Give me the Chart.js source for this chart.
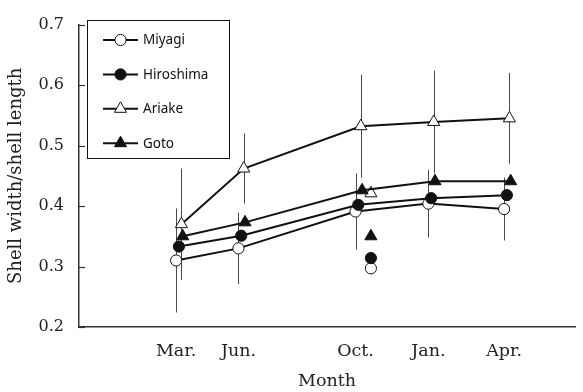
<!DOCTYPE html>
<html>
<head>
<meta charset="utf-8">
<script src="https://cdn.jsdelivr.net/npm/chart.js@4.4.1/dist/chart.umd.min.js"></script>
<style>
  html, body { margin: 0; padding: 0; background: #fff; }
  canvas { display: block; }
</style>
</head>
<body>
<canvas id="chart" width="583" height="392"></canvas>
<script>
// Sampling months (months after the March sampling) and their axis labels
const monthLabels    = ['Mar.', 'Jun.', 'Oct.', 'Jan.', 'Apr.'];
const samplingMonths = [0, 2.47, 7.11, 10, 13];

// Mean shell width / shell length ratio per population
const miyagi    = [0.310, 0.330, 0.391, 0.404, 0.395];
const hiroshima = [0.333, 0.351, 0.402, 0.413, 0.418];
const ariake    = [0.370, 0.462, 0.532, 0.539, 0.545];
const goto      = [0.350, 0.373, 0.426, 0.441, 0.441];

// Standard deviations
const miyagiSD = [0.086, 0.059, 0.063, 0.056, 0.052];
const ariakeSD = [0.092, 0.058, 0.085, 0.085, 0.075];

// Separate October sample (Miyagi, Hiroshima, Ariake, Goto)
const octSampleMonth  = 7.72;
const octSampleValues = [0.297, 0.314, 0.421, 0.350];

// Y axis ticks
const yTicks = [0.2, 0.3, 0.4, 0.5, 0.6, 0.7];

// Drawing style of each population
const series = [
  { name: 'Miyagi',    values: miyagi,    sd: miyagiSD, shape: 'circle',   fill: '#ffffff', dodge: 0,    order: 4 },
  { name: 'Hiroshima', values: hiroshima, sd: null,     shape: 'circle',   fill: '#111111', dodge: 0.11, order: 3 },
  { name: 'Ariake',    values: ariake,    sd: ariakeSD, shape: 'triangle', fill: '#ffffff', dodge: 0.21, order: 2 },
  { name: 'Goto',      values: goto,      sd: null,     shape: 'triangle', fill: '#111111', dodge: 0.26, order: 1 }
];
const markerRadius = { circle: 5.6, triangle: 7 };
const INK = '#111111';
const SERIF = '"DejaVu Serif", serif';

const datasets = [];
series.forEach((s, k) => {
  datasets.push({
    label: s.name,
    data: s.values.map((v, i) => ({ x: samplingMonths[i] + s.dodge, y: v })),
    borderColor: INK,
    borderWidth: 2,
    tension: 0,
    pointStyle: s.shape,
    pointRadius: markerRadius[s.shape],
    pointBackgroundColor: s.fill,
    pointBorderColor: INK,
    pointBorderWidth: 1,
    order: s.order
  });
  datasets.push({
    label: s.name + ' (Oct.)',
    data: [{ x: octSampleMonth, y: octSampleValues[k] }],
    showLine: false,
    pointStyle: s.shape,
    pointRadius: markerRadius[s.shape],
    pointBackgroundColor: s.fill,
    pointBorderColor: INK,
    pointBorderWidth: 1,
    order: s.order
  });
});

// Vertical SD bars behind the lines
const errorBars = {
  id: 'errorBars',
  beforeDatasetsDraw(chart) {
    const { ctx, scales: { x, y } } = chart;
    ctx.save();
    ctx.strokeStyle = '#4a4a4a';
    ctx.lineWidth = 1;
    series.forEach(s => {
      if (!s.sd) return;
      s.values.forEach((v, i) => {
        const px = Math.round(x.getPixelForValue(samplingMonths[i] + s.dodge)) + 0.5;
        ctx.beginPath();
        ctx.moveTo(px, y.getPixelForValue(v + s.sd[i]));
        ctx.lineTo(px, y.getPixelForValue(v - s.sd[i]));
        ctx.stroke();
      });
    });
    ctx.restore();
  }
};

// Inward tick marks on the y axis
const innerTicks = {
  id: 'innerTicks',
  afterDraw(chart) {
    const { ctx, scales: { y } } = chart;
    const left = chart.chartArea.left;
    ctx.save();
    ctx.strokeStyle = '#333';
    ctx.lineWidth = 1.2;
    yTicks.forEach(t => {
      const py = Math.round(y.getPixelForValue(t)) + 0.5;
      ctx.beginPath();
      ctx.moveTo(left, py);
      ctx.lineTo(left + 6, py);
      ctx.stroke();
    });
    ctx.restore();
  }
};

// Boxed legend in the upper left of the plot
const boxLegend = {
  id: 'boxLegend',
  afterDraw(chart) {
    const { ctx } = chart;
    const box = { x: 87.5, y: 20.5, w: 142, h: 138 };
    ctx.save();
    ctx.fillStyle = '#fff';
    ctx.fillRect(box.x, box.y, box.w, box.h);
    ctx.strokeStyle = INK;
    ctx.lineWidth = 1;
    ctx.strokeRect(box.x, box.y, box.w, box.h);
    series.forEach((s, i) => {
      const cy = 40 + i * 34.4;
      ctx.strokeStyle = INK;
      ctx.lineWidth = 2;
      ctx.beginPath();
      ctx.moveTo(103, cy);
      ctx.lineTo(138, cy);
      ctx.stroke();
      ctx.fillStyle = s.fill;
      ctx.strokeStyle = INK;
      ctx.lineWidth = 1;
      Chart.helpers.drawPoint(ctx, {
        pointStyle: s.shape,
        radius: markerRadius[s.shape],
        rotation: 0,
        borderWidth: 1
      }, 120.5, cy);
      ctx.fillStyle = '#111';
      ctx.font = '13.5px "Noto Sans", sans-serif';
      ctx.textBaseline = 'middle';
      ctx.textAlign = 'left';
      ctx.fillText(s.name, 143, cy + 0.5);
    });
    ctx.restore();
  }
};

new Chart(document.getElementById('chart'), {
  type: 'line',
  data: { datasets },
  plugins: [errorBars, innerTicks, boxLegend],
  options: {
    responsive: false,
    animation: false,
    layout: { padding: { top: 15, right: 0, bottom: 0, left: 0 } },
    plugins: { legend: { display: false }, tooltip: { enabled: false } },
    scales: {
      x: {
        type: 'linear',
        min: -3.85,
        max: 15.81,
        grid: { display: false, drawTicks: false },
        border: { display: true, color: '#333', width: 1.5 },
        afterBuildTicks: scale => {
          scale.ticks = samplingMonths.map(v => ({ value: v }));
        },
        afterFit: scale => { scale.height = 65; },
        ticks: {
          autoSkip: false,
          maxRotation: 0,
          padding: 14,
          color: '#222',
          font: { family: SERIF, size: 17.5 },
          callback: (value, index) => monthLabels[index]
        },
        title: {
          display: true,
          text: 'Month',
          color: '#222',
          font: { family: SERIF, size: 17.5 },
          padding: { top: 0, bottom: 0 }
        }
      },
      y: {
        min: 0.2,
        max: 0.7,
        grid: { display: false, drawTicks: false },
        border: { display: true, color: '#333', width: 1.5 },
        afterBuildTicks: scale => {
          scale.ticks = yTicks.map(v => ({ value: v }));
        },
        afterFit: scale => { scale.width = 79; },
        ticks: {
          padding: 15,
          color: '#222',
          font: { family: SERIF, size: 16 },
          callback: v => v.toFixed(1)
        },
        title: {
          display: true,
          text: 'Shell width/shell length',
          color: '#222',
          font: { family: SERIF, size: 18 },
          padding: { top: 6, bottom: 0 }
        }
      }
    }
  }
});
</script>
</body>
</html>
